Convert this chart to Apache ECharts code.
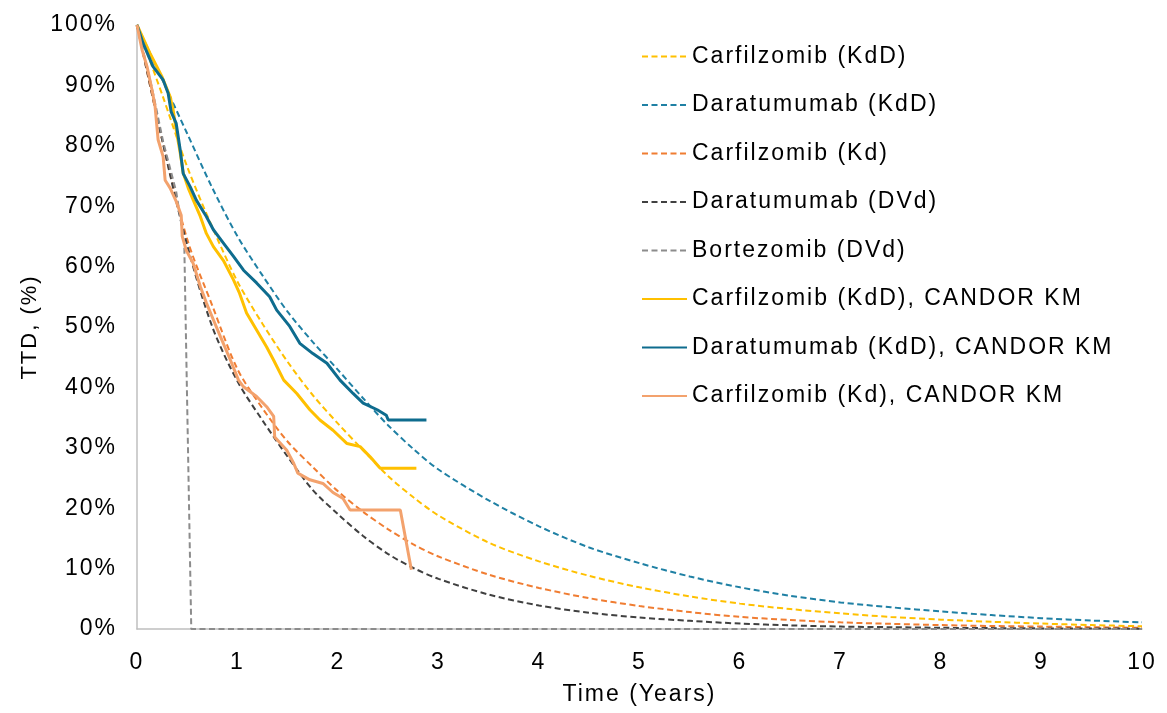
<!DOCTYPE html>
<html>
<head>
<meta charset="utf-8">
<script src="https://cdn.jsdelivr.net/npm/echarts@6/dist/echarts.min.js"></script>
<style>
  html, body { margin: 0; padding: 0; background: #fff; }
  #chart { width: 1167px; height: 713px; }
</style>
</head>
<body>
<div id="chart"></div>
<script>
// Time grid (years) shared by the parametric fits
const fitTimes = [0, 0.25, 0.5, 0.75, 1, 1.25, 1.5, 1.75, 2, 2.25, 2.5, 2.75, 3, 3.5, 4, 4.5, 5, 5.5, 6, 6.5, 7, 7.5, 8, 8.5, 9, 9.5, 10];

// Parametric TTD fits, % still on treatment
const carfKdDFit = [100, 88.5, 76.5, 66.5, 57.5, 50.5, 44.2, 38.7, 34, 29.6, 25.3, 21.8, 18.8, 14.3, 11.2, 8.8, 6.9, 5.4, 4.2, 3.3, 2.6, 2.0, 1.55, 1.2, 0.9, 0.65, 0.45];
const daraKdDFit = [100, 91, 82, 73, 65, 58.5, 52.5, 47.5, 42.9, 38.2, 33.7, 29.8, 26.4, 21.3, 17, 13.5, 10.9, 8.7, 6.9, 5.5, 4.4, 3.6, 2.9, 2.3, 1.8, 1.4, 1.1];
const carfKdFit  = [100, 81, 64.5, 53.5, 43, 36.5, 31, 26.8, 22.8, 19.4, 16.5, 14, 12, 9, 6.8, 5.1, 3.8, 2.8, 2.0, 1.5, 1.1, 0.85, 0.65, 0.5, 0.4, 0.3, 0.2];
const daraDVdFit = [100, 81, 63.5, 50, 41, 34.5, 28.5, 23, 19, 15.4, 12.4, 10.1, 8.3, 5.7, 3.9, 2.7, 1.9, 1.35, 0.9, 0.6, 0.4, 0.3, 0.2, 0.15, 0.1, 0.08, 0.05];

// Bortezomib (DVd): fixed-duration treatment, drops to zero
const bortTimes  = [0, 0.15, 0.26, 0.39, 0.47, 0.54, 10];
const bortValues = [100, 89.5, 80.7, 72.4, 64, 0, 0];

// CANDOR Kaplan-Meier curves: [years, %]
const carfKdDKM = [[0,100],[0.13,95.3],[0.25,91.4],[0.33,88.1],[0.36,85.9],[0.39,82.6],[0.43,78.8],[0.46,75.5],[0.51,73],[0.56,71],[0.63,68.3],[0.69,65.5],[0.76,63.3],[0.86,61],[0.96,57.8],[1.02,55.6],[1.09,52.3],[1.19,49.5],[1.29,46.7],[1.36,44.5],[1.46,41.2],[1.59,39],[1.72,36.3],[1.82,34.6],[1.95,32.9],[2.09,30.7],[2.22,30.2],[2.32,28.5],[2.42,26.6],[2.78,26.6]];
const daraKdDKM = [[0,100],[0.06,97],[0.16,93.1],[0.26,90.9],[0.31,88.7],[0.34,85.6],[0.39,83.7],[0.43,79.3],[0.46,75.4],[0.53,73.2],[0.59,71],[0.69,68.3],[0.76,66.1],[0.86,63.9],[0.96,61.7],[1.06,59.4],[1.19,57.3],[1.32,55],[1.39,52.8],[1.52,50.1],[1.62,47.3],[1.75,45.6],[1.89,44],[2.02,41.2],[2.15,39],[2.25,37.4],[2.39,36.3],[2.48,35.4],[2.5,34.6],[2.88,34.6]];
const carfKdKM  = [[0,100],[0.05,95.9],[0.1,93.1],[0.15,89.2],[0.18,86.5],[0.21,81],[0.26,78.2],[0.28,74.3],[0.33,73],[0.39,70.8],[0.44,68.5],[0.45,65],[0.49,62.7],[0.56,60.5],[0.63,56.7],[0.69,54],[0.76,51.2],[0.83,48.4],[0.93,44.5],[1.01,41.2],[1.06,40.1],[1.19,38.5],[1.29,36.8],[1.36,35.2],[1.37,31.8],[1.49,29.6],[1.56,27.4],[1.6,25.8],[1.72,24.7],[1.85,24.1],[1.95,22.6],[2.05,21.6],[2.12,19.7],[2.62,19.7],[2.73,9.8]];

const seriesNames = [
  'Carfilzomib (KdD)', 'Daratumumab (KdD)', 'Carfilzomib (Kd)', 'Daratumumab (DVd)', 'Bortezomib (DVd)',
  'Carfilzomib (KdD), CANDOR KM', 'Daratumumab (KdD), CANDOR KM', 'Carfilzomib (Kd), CANDOR KM'
];
const xTicks = [0, 1, 2, 3, 4, 5, 6, 7, 8, 9, 10];

// Slightly tracked-out lettering for all chart text
(function () {
  const proto = CanvasRenderingContext2D.prototype;
  const fill = proto.fillText;
  proto.fillText = function () {
    if ('letterSpacing' in this) this.letterSpacing = '2px';
    return fill.apply(this, arguments);
  };
})();

const FONT = 'Liberation Sans, Arial, sans-serif';
const pair = (ts, vs) => ts.map((t, i) => [t, vs[i]]);

function dashed(name, data, color, smooth) {
  return {
    name, type: 'line', data, smooth: smooth ? 0.3 : false, symbol: 'none',
    lineStyle: { color, width: 2, type: [6, 3.5] }, itemStyle: { color },
    emphasis: { disabled: true }, z: 2
  };
}
function solid(name, data, color) {
  return {
    name, type: 'line', data, symbol: 'none',
    lineStyle: { color, width: 3 }, itemStyle: { color },
    emphasis: { disabled: true }, z: 3
  };
}

const chart = echarts.init(document.getElementById('chart'), null, { renderer: 'canvas' });
chart.setOption({
  animation: false,
  backgroundColor: '#fff',
  grid: { left: 137, right: 25, top: 25, bottom: 84, containLabel: false },
  legend: {
    orient: 'vertical', left: 636, top: 40, itemWidth: 45, itemHeight: 14, itemGap: 25.5,
    data: seriesNames,
    itemStyle: { opacity: 0, color: 'rgba(0,0,0,0)', borderWidth: 0 },
    textStyle: { fontFamily: FONT, fontSize: 23, color: '#000' }
  },
  xAxis: {
    type: 'value', min: 0, max: 10, interval: 1,
    name: 'Time (Years)', nameLocation: 'middle', nameGap: 54,
    nameTextStyle: { fontFamily: FONT, fontSize: 23, color: '#000' },
    axisLine: { show: true, lineStyle: { color: '#bfbfbf', width: 1.5 } },
    axisTick: { show: false }, splitLine: { show: false },
    axisLabel: { margin: 22, fontFamily: FONT, fontSize: 23, color: '#000',
      formatter: v => xTicks.includes(v) ? String(v) : '' }
  },
  yAxis: {
    type: 'value', min: 0, max: 100, interval: 10,
    name: 'TTD, (%)', nameLocation: 'middle', nameGap: 96, nameRotate: 90,
    nameTextStyle: { fontFamily: FONT, fontSize: 22, color: '#000' },
    axisLine: { show: true, lineStyle: { color: '#bfbfbf', width: 1.5 } },
    axisTick: { show: false }, splitLine: { show: false },
    axisLabel: { margin: 20, fontFamily: FONT, fontSize: 23, color: '#000', formatter: '{value}%' }
  },
  series: [
    dashed(seriesNames[0], pair(fitTimes, carfKdDFit), '#FFC000', true),
    dashed(seriesNames[1], pair(fitTimes, daraKdDFit), '#1F80A4', true),
    dashed(seriesNames[2], pair(fitTimes, carfKdFit), '#F07D32', true),
    dashed(seriesNames[3], pair(fitTimes, daraDVdFit), '#404040', true),
    dashed(seriesNames[4], pair(bortTimes, bortValues), '#8C8C8C', false),
    solid(seriesNames[5], carfKdDKM, '#FFC000'),
    solid(seriesNames[6], daraKdDKM, '#0E6C8E'),
    solid(seriesNames[7], carfKdKM, '#F3A26D')
  ]
});
</script>
</body>
</html>
